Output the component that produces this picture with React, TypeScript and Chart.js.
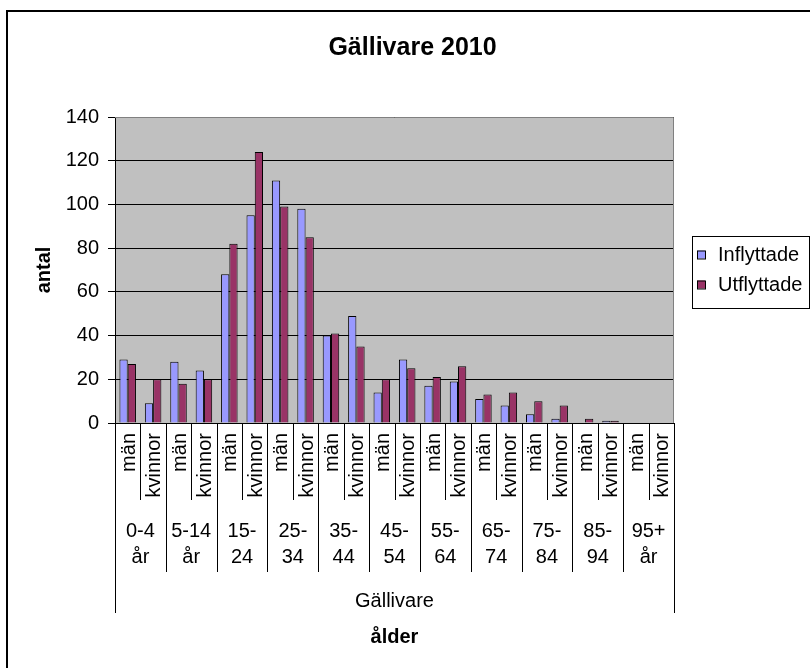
import React, { useEffect, useRef } from 'react';
import { Chart, registerables } from 'chart.js';

Chart.register(...registerables);

const chartTitle = 'Gällivare 2010';
const yAxisTitle = 'antal';
const xAxisTitle = 'ålder';
const regionLabel = 'Gällivare';
const ageGroups: string[][] = [
  ['0-4', 'år'],
  ['5-14', 'år'],
  ['15-', '24'],
  ['25-', '34'],
  ['35-', '44'],
  ['45-', '54'],
  ['55-', '64'],
  ['65-', '74'],
  ['75-', '84'],
  ['85-', '94'],
  ['95+', 'år'],
];
const sexes = ['män', 'kvinnor'];
const seriesNames = ['Inflyttade', 'Utflyttade'];
const inflyttade = [29, 9, 28, 24, 68, 95, 111, 98, 40, 49, 14, 29, 17, 19, 11, 8, 4, 2, 0, 1, 0, 0];
const utflyttade = [27, 20, 18, 20, 82, 124, 99, 85, 41, 35, 20, 25, 21, 26, 13, 14, 10, 8, 2, 1, 0, 0];
const yTicks = [0, 20, 40, 60, 80, 100, 120, 140];

const categories: string[] = [];
ageGroups.forEach((g) => sexes.forEach((s) => categories.push(g.join(' ') + ' ' + s)));

const FONT = '"Liberation Sans", Arial, sans-serif';
const colors = ['#9999FF', '#993366'];

const customPlugin = {
  id: 'customDecor',
  beforeDraw(chart: any) {
    const { ctx, chartArea: a } = chart;
    ctx.save();
    ctx.fillStyle = '#ffffff';
    ctx.fillRect(0, 0, chart.width, chart.height);
    ctx.fillStyle = '#C0C0C0';
    ctx.fillRect(a.left, a.top, a.right - a.left, a.bottom - a.top);
    ctx.restore();
  },
  afterDraw(chart: any) {
    const { ctx, chartArea: a } = chart;
    const xs = chart.scales.x;
    ctx.save();

    // outer chart border
    ctx.strokeStyle = '#000';
    ctx.lineWidth = 2;
    ctx.strokeRect(7, 11, 900, 900);

    // plot area top/right border
    ctx.lineWidth = 1;
    ctx.strokeStyle = '#808080';
    ctx.beginPath();
    ctx.moveTo(a.left, a.top + 0.5);
    ctx.lineTo(a.right - 0.5, a.top + 0.5);
    ctx.lineTo(a.right - 0.5, a.bottom);
    ctx.stroke();

    // title
    ctx.fillStyle = '#000';
    ctx.font = 'bold 25px ' + FONT;
    ctx.textAlign = 'center';
    ctx.textBaseline = 'alphabetic';
    ctx.fillText(chartTitle, 412.5, 55);

    // y axis title
    ctx.save();
    ctx.translate(50, (a.top + a.bottom) / 2);
    ctx.rotate(-Math.PI / 2);
    ctx.font = 'bold 20px ' + FONT;
    ctx.textAlign = 'center';
    ctx.fillText(yAxisTitle, 0, 0);
    ctx.restore();

    // multi-level x axis
    const n = categories.length;
    const x0 = xs.getPixelForValue(0);
    const w = xs.getPixelForValue(1) - x0;
    const b = a.bottom;
    ctx.strokeStyle = '#000';
    ctx.lineWidth = 1;
    for (let k = 0; k <= n; k++) {
      const x = Math.round(x0 - w / 2 + k * w) + 0.5;
      let yEnd;
      if (k === 0 || k === n) yEnd = b + 190;
      else if (k % 2 === 0) yEnd = b + 149;
      else yEnd = b + 77;
      ctx.beginPath();
      ctx.moveTo(x, b);
      ctx.lineTo(x, yEnd);
      ctx.stroke();
    }
    ctx.font = '20px ' + FONT;
    for (let i = 0; i < n; i++) {
      const cx = xs.getPixelForValue(i);
      ctx.save();
      ctx.translate(cx + 7, b + 10);
      ctx.rotate(-Math.PI / 2);
      ctx.textAlign = 'right';
      ctx.textBaseline = 'alphabetic';
      ctx.fillText(sexes[i % 2], 0, 0);
      ctx.restore();
    }
    ctx.textAlign = 'center';
    ctx.textBaseline = 'alphabetic';
    ageGroups.forEach((g, gi) => {
      const cx = (xs.getPixelForValue(gi * 2) + xs.getPixelForValue(gi * 2 + 1)) / 2;
      ctx.fillText(g[0], cx, b + 114);
      ctx.fillText(g[1], cx, b + 140);
    });
    const mid = (a.left + a.right) / 2;
    ctx.fillText(regionLabel, mid, b + 184);
    ctx.font = 'bold 20px ' + FONT;
    ctx.fillText(xAxisTitle, mid, b + 220);

    // legend
    const lx = 692, ly = 236;
    ctx.strokeStyle = '#000';
    ctx.lineWidth = 1;
    ctx.strokeRect(lx + 0.5, ly + 0.5, 117, 72);
    ctx.font = '20px ' + FONT;
    ctx.textAlign = 'left';
    chart.data.datasets.forEach((ds: any, di: number) => {
      const cy = 254.5 + di * 30;
      ctx.fillStyle = ds.backgroundColor;
      ctx.fillRect(697, cy - 4, 8, 8);
      ctx.strokeRect(697.5, cy - 3.5, 8, 8);
      ctx.fillStyle = '#000';
      ctx.fillText(ds.label, 718, cy + 6);
    });

    ctx.restore();
  },
};

export default function App() {
  const ref = useRef<HTMLCanvasElement | null>(null);
  useEffect(() => {
    if (!ref.current) return;
    const chart = new Chart(ref.current, {
      type: 'bar',
      data: {
        labels: categories,
        datasets: [
          {
            label: seriesNames[0],
            data: inflyttade,
            backgroundColor: colors[0],
            borderColor: '#000',
            borderWidth: 1,
          },
          {
            label: seriesNames[1],
            data: utflyttade,
            backgroundColor: colors[1],
            borderColor: '#000',
            borderWidth: 1,
          },
        ],
      },
      options: {
        responsive: false,
        devicePixelRatio: 1,
        animation: false,
        layout: { padding: { top: 117, right: 136, bottom: 0, left: 0 } },
        datasets: { bar: { categoryPercentage: 0.65, barPercentage: 1 } },
        plugins: {
          legend: { display: false },
          title: { display: false },
          tooltip: { enabled: false },
        },
        scales: {
          x: {
            type: 'category',
            ticks: { display: false },
            grid: { display: false },
            border: { display: true, color: '#000', width: 1 },
            afterFit: (s: any) => {
              s.height = 245;
            },
          },
          y: {
            min: 0,
            max: 140,
            afterBuildTicks: (s: any) => {
              s.ticks = yTicks.map((v) => ({ value: v }));
            },
            ticks: {
              color: '#000',
              font: { family: FONT, size: 20 },
              padding: 9,
            },
            grid: { color: '#000', lineWidth: 1, tickLength: 7, tickColor: '#000' },
            border: { display: true, color: '#000', width: 1 },
            afterFit: (s: any) => {
              s.width = 115;
            },
          },
        },
      },
      plugins: [customPlugin],
    } as any);
    return () => chart.destroy();
  }, []);
  return (
    <div style={{ position: 'absolute', left: 0, top: 0, width: 810, height: 668 }}>
      <canvas ref={ref} width={810} height={668} style={{ display: 'block' }} />
    </div>
  );
}
